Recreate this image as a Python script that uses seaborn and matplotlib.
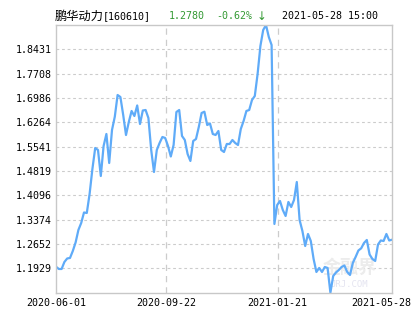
import numpy as np
import pandas as pd
import matplotlib
matplotlib.use("Agg")
import matplotlib.pyplot as plt
import matplotlib.transforms as mtransforms
import seaborn as sns

# Fund NAV, sampled every other trading day from 2020-06-01 to 2021-05-28
nav = [
    1.1979, 1.1911, 1.1911, 1.2119, 1.2223, 1.2238, 1.2445, 1.2698, 1.3069, 1.3276,
    1.3588, 1.3573, 1.4137, 1.4879, 1.5502, 1.5443, 1.4671, 1.5562, 1.5918, 1.5057,
    1.6037, 1.6431, 1.7075, 1.7016, 1.6482, 1.5888, 1.6274, 1.6601, 1.6452, 1.6764,
    1.6215, 1.6615, 1.6630, 1.6393, 1.5443, 1.4790, 1.5443, 1.5651, 1.5829, 1.5799,
    1.5562, 1.5250, 1.5591, 1.6571, 1.6630, 1.5859, 1.5740, 1.5324, 1.5117, 1.5710,
    1.5769, 1.6126, 1.6541, 1.6580, 1.6185, 1.6230, 1.5918, 1.5888, 1.6007, 1.5443,
    1.5384, 1.5621, 1.5621, 1.5740, 1.5651, 1.5591, 1.6066, 1.6304, 1.6601, 1.6630,
    1.6927, 1.7046, 1.7699, 1.8530, 1.9005, 1.9153, 1.8797, 1.8559, 1.3247, 1.3811,
    1.3929, 1.3662, 1.3484, 1.3900, 1.3751, 1.3959, 1.4493, 1.3365, 1.3039, 1.2594,
    1.2950, 1.2742, 1.2208, 1.1822, 1.1941, 1.1822, 1.1970, 1.1941, 1.1207, 1.1703,
    1.1807, 1.1881, 1.1970, 1.2015, 1.1822, 1.1733, 1.2089, 1.2267, 1.2460, 1.2525,
    1.2683, 1.2772, 1.2341, 1.2208, 1.2149, 1.2638, 1.2757, 1.2742, 1.2950, 1.2757,
    1.2780,
]
n_days = 242
tick_days = [0, 79, 159, 241]
tick_labels = ["2020-06-01", "2020-09-22", "2021-01-21", "2021-05-28"]

fund_name = "鹏华动力"
fund_code = "[160610]"
last_nav = "1.2780"
change = "-0.62%"
arrow = "↓"
stamp = "2021-05-28 15:00"

df = pd.DataFrame({"day": np.linspace(0, n_days - 1, len(nav)), "nav": nav})

sns.set_style("white")
plt.rcParams["font.family"] = ["DejaVu Sans Mono", "Noto Sans CJK SC", "DejaVu Sans"]

fig = plt.figure(figsize=(4.15, 3.30), dpi=100)
ax = fig.add_axes([56 / 415, 1 - 292.7 / 330, 336 / 415, 267.7 / 330])

lo, hi = min(nav), max(nav)
yticks = [lo + k * (hi - lo) / 11 for k in range(1, 11)]

for y in yticks:
    ax.axhline(y, color="#cccccc", lw=0.8, ls=(0, (2.5, 2.5)), zorder=0)
for d in tick_days[1:-1]:
    ax.axvline(d, color="#cccccc", lw=0.9, ls=(0, (5, 4)), zorder=0)

# faint site watermark
ax.text(0.955, 0.095, "金融界", transform=ax.transAxes, ha="right", va="center",
        fontsize=13, color="#ececec", family=["Noto Sans CJK SC"], fontweight="bold", zorder=0)
ax.text(0.93, 0.03, "JRJ.COM", transform=ax.transAxes, ha="right", va="center",
        fontsize=6.5, color="#e4e4f0", zorder=0)

sns.lineplot(data=df, x="day", y="nav", ax=ax, color="#5fabf8", lw=1.6,
             solid_joinstyle="round")

ax.set_xlim(0, n_days - 1)
ax.set_ylim(lo, hi)
ax.set_yticks(yticks)
ax.set_yticklabels([f"{v:.4f}" for v in yticks])
ax.set_xticks(tick_days)
ax.set_xticklabels(tick_labels)
ax.set_xlabel("")
ax.set_ylabel("")
ax.tick_params(axis="both", length=0, labelsize=7.2, colors="black")
ax.tick_params(axis="y", pad=3)
ax.tick_params(axis="x", pad=4)
last = ax.get_xticklabels()[-1]
last.set_transform(last.get_transform() +
                   mtransforms.ScaledTranslation(-11 / 100, 0, fig.dpi_scale_trans))

for s in ax.spines.values():
    s.set_color("#c8c8c8")
    s.set_linewidth(1.0)

ytxt = 1 - 16 / 330
fig.text(55 / 415, ytxt, fund_name, family=["Noto Sans CJK SC"], fontsize=8.8,
         va="center", ha="left", color="black")
fig.text(103 / 415, ytxt, fund_code, fontsize=7.2, va="center", ha="left", color="black")
fig.text(169 / 415, ytxt, last_nav, fontsize=7.2, va="center", ha="left", color="#339933")
fig.text(216 / 415, ytxt, change, fontsize=7.2, va="center", ha="left", color="#339933")
fig.text(257 / 415, ytxt, arrow, family=["DejaVu Sans"], fontsize=8.5,
         va="center", ha="left", color="#339933")
fig.text(282 / 415, ytxt, stamp, fontsize=7.2, va="center", ha="left", color="black")

fig.savefig("out.png", dpi=100)
